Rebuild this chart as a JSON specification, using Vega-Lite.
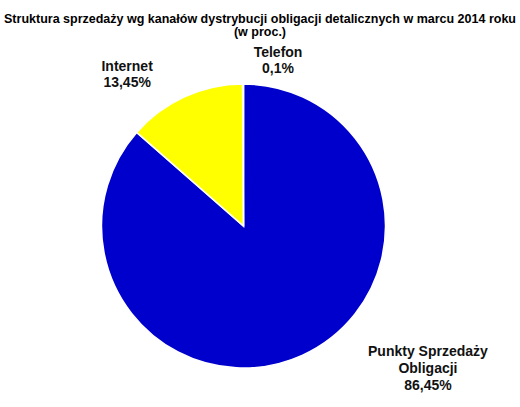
{
  "$schema": "https://vega.github.io/schema/vega-lite/v6.json",
  "autosize": {"type": "none"},
  "padding": {"left": 0, "top": 46, "right": 33, "bottom": 1},
  "width": 487,
  "height": 360,
  "background": "white",
  "title": {
    "text": [
      "Struktura sprzedaży wg kanałów dystrybucji obligacji  detalicznych  w marcu 2014 roku",
      "(w proc.)"
    ],
    "font": "Liberation Sans",
    "fontSize": 12.5,
    "fontWeight": "bold",
    "color": "black",
    "lineHeight": 13,
    "offset": 8,
    "dx": 16.5
  },
  "config": {"view": {"stroke": null}},
  "data": {
    "values": [
      {"kanal": "Punkty Sprzedaży Obligacji", "udzial": 86.45, "kolejnosc": 1, "etykieta": "Punkty Sprzedaży\nObligacji\n86,45%"},
      {"kanal": "Internet", "udzial": 13.45, "kolejnosc": 2, "etykieta": "Internet\n13,45%"},
      {"kanal": "Telefon", "udzial": 0.1, "kolejnosc": 3, "etykieta": "Telefon\n0,1%"}
    ]
  },
  "encoding": {
    "theta": {"field": "udzial", "type": "quantitative", "stack": true},
    "order": {"field": "kolejnosc", "type": "quantitative"}
  },
  "layer": [
    {
      "mark": {"type": "arc", "outerRadius": 142, "stroke": "white", "strokeWidth": 1.5},
      "encoding": {
        "color": {
          "field": "kanal",
          "type": "nominal",
          "scale": {
            "domain": ["Punkty Sprzedaży Obligacji", "Internet", "Telefon"],
            "range": ["#0000CC", "#FFFF00", "#D9D9D9"]
          },
          "legend": null
        }
      }
    },
    {
      "mark": {"type": "text", "radius": 150, "dx": 122.5, "dy": -10.6, "lineBreak": "\n", "lineHeight": 17, "font": "Liberation Sans", "fontSize": 14, "fontWeight": "bold", "color": "#111111", "align": "center", "baseline": "middle"},
      "encoding": {
        "text": {"condition": {"test": "datum.kolejnosc == 1", "field": "etykieta"}, "value": ""}
      }
    },
    {
      "mark": {"type": "text", "radius": 150, "dx": -54, "dy": -22.6, "lineBreak": "\n", "lineHeight": 16, "font": "Liberation Sans", "fontSize": 14, "fontWeight": "bold", "color": "#111111", "align": "center", "baseline": "middle"},
      "encoding": {
        "text": {"condition": {"test": "datum.kolejnosc == 2", "field": "etykieta"}, "value": ""}
      }
    },
    {
      "mark": {"type": "text", "radius": 150, "dx": 35, "dy": -23, "lineBreak": "\n", "lineHeight": 16, "font": "Liberation Sans", "fontSize": 14, "fontWeight": "bold", "color": "#111111", "align": "center", "baseline": "middle"},
      "encoding": {
        "text": {"condition": {"test": "datum.kolejnosc == 3", "field": "etykieta"}, "value": ""}
      }
    }
  ]
}
